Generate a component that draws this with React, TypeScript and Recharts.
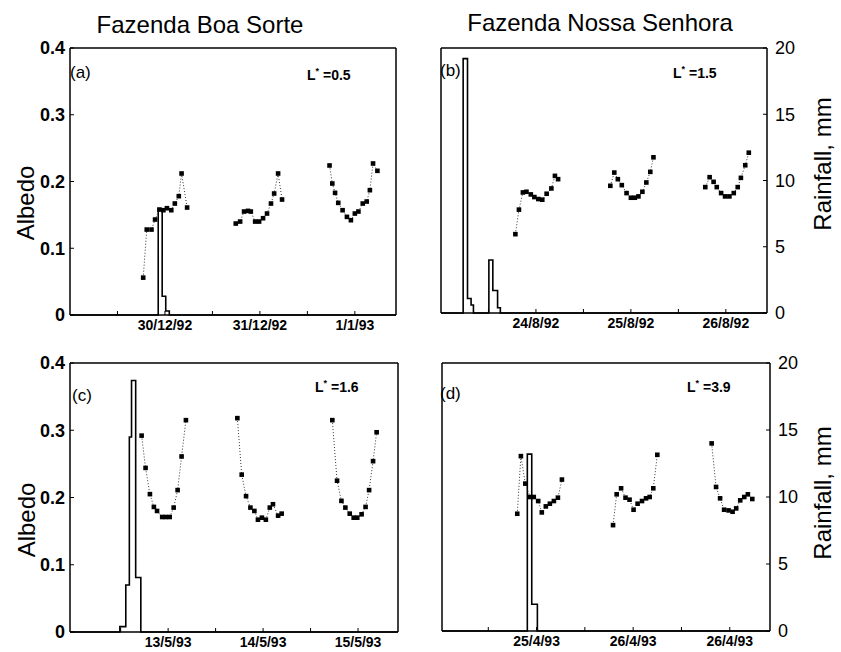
import { ComposedChart, Line, XAxis, YAxis, ReferenceLine } from "recharts";

const FONT = '"Liberation Sans", Arial, Helvetica, sans-serif';

// time axis in hours from the left edge of each panel, ticks at noon of each day
const timeTicks = [12, 24, 36, 48, 60, 72];

// (a) Fazenda Boa Sorte, dec 92
const datesA = ["30/12/92", "31/12/92", "1/1/93"];
const hoursA = [
  [18.5, 19.4, 20.6, 21.5, 22.6, 23.6, 24.5, 25.6, 26.5, 27.5, 28.2, 29.6],
  [41.9, 43.0, 44.0, 45.0, 45.7, 46.8, 47.8, 48.8, 49.8, 50.8, 51.6, 52.6, 53.6],
  [65.6, 66.3, 67.0, 67.8, 68.9, 70.0, 71.0, 72.0, 72.9, 74.0, 75.0, 75.8, 76.6, 77.7],
];
const albedoA = [
  [0.056, 0.128, 0.128, 0.143, 0.158, 0.157, 0.16, 0.157, 0.167, 0.178, 0.212, 0.161],
  [0.137, 0.14, 0.155, 0.156, 0.155, 0.14, 0.14, 0.145, 0.152, 0.167, 0.182, 0.212, 0.173],
  [0.224, 0.197, 0.183, 0.168, 0.157, 0.147, 0.142, 0.152, 0.155, 0.167, 0.17, 0.187, 0.227, 0.216],
];
const rainHoursA = [22.3, 23.3, 24.2, 25.1];
const rainA = [7.9, 1.4, 0.3, 0];

// (b) Fazenda Nossa Senhora, aug 92
const datesB = ["24/8/92", "25/8/92", "26/8/92"];
const hoursB = [
  [18.8, 19.7, 20.7, 21.6, 22.7, 23.6, 24.6, 25.6, 26.7, 27.9, 28.8, 29.6],
  [42.8, 43.8, 44.7, 45.7, 46.9, 48.0, 49.0, 49.9, 50.9, 51.9, 52.9, 53.7],
  [66.8, 67.9, 68.9, 69.7, 70.8, 71.8, 72.9, 74.0, 75.0, 75.8, 76.9, 77.8],
];
const albedoB = [
  [0.119, 0.156, 0.182, 0.183, 0.179, 0.175, 0.172, 0.171, 0.18, 0.188, 0.207, 0.202],
  [0.192, 0.212, 0.202, 0.193, 0.181, 0.174, 0.174, 0.176, 0.183, 0.197, 0.213, 0.235],
  [0.19, 0.205, 0.198, 0.19, 0.181, 0.176, 0.176, 0.181, 0.19, 0.204, 0.223, 0.242],
];
const rainHoursB = [5.6, 6.7, 7.6, 8.2, 12.1, 13.1, 14.3, 15.0];
const rainB = [19.2, 1.1, 0.6, 0, 4.0, 1.7, 0.4, 0];

// (c) Fazenda Boa Sorte, may 93
const datesC = ["13/5/93", "14/5/93", "15/5/93"];
const hoursC = [
  [17.3, 18.3, 19.4, 20.4, 21.2, 22.5, 23.4, 24.4, 25.4, 26.4, 27.4, 28.5],
  [41.5, 42.6, 43.7, 44.8, 45.8, 46.7, 47.7, 48.7, 49.7, 50.5, 51.8, 52.7],
  [65.5, 66.7, 67.8, 68.8, 69.9, 70.9, 71.8, 72.9, 73.9, 74.8, 75.8, 76.7],
];
const albedoC = [
  [0.292, 0.244, 0.205, 0.186, 0.18, 0.171, 0.171, 0.171, 0.185, 0.211, 0.261, 0.315],
  [0.318, 0.234, 0.202, 0.185, 0.18, 0.167, 0.17, 0.167, 0.185, 0.19, 0.173, 0.176],
  [0.315, 0.225, 0.195, 0.185, 0.176, 0.17, 0.17, 0.175, 0.186, 0.211, 0.254, 0.297],
];
const rainHoursC = [11.8, 13.3, 14.2, 14.75, 15.8, 17.1];
const rainC = [0.4, 3.5, 14.5, 18.7, 4.05, 0];

// (d) Fazenda Nossa Senhora, apr 93
const datesD = ["25/4/93", "26/4/93", "26/4/93"];
const hoursD = [
  [19.2, 20.1, 21.2, 22.4, 23.3, 24.4, 25.3, 26.3, 27.3, 28.3, 29.3, 30.3],
  [43.0, 43.9, 45.0, 46.1, 47.1, 48.1, 49.1, 50.2, 51.2, 52.1, 53.0, 54.0],
  [67.5, 68.6, 69.6, 70.6, 71.7, 72.7, 73.6, 74.6, 75.6, 76.5, 77.6],
];
const albedoD = [
  [0.175, 0.261, 0.22, 0.2, 0.2, 0.194, 0.177, 0.186, 0.19, 0.194, 0.199, 0.226],
  [0.158, 0.204, 0.213, 0.199, 0.196, 0.181, 0.19, 0.194, 0.198, 0.2, 0.213, 0.263],
  [0.28, 0.215, 0.198, 0.181, 0.18, 0.178, 0.183, 0.195, 0.2, 0.204, 0.197],
];
const rainHoursD = [21.7, 22.8, 24.2];
const rainD = [13.2, 2.0, 0];

const albedoTicks = [0, 0.1, 0.2, 0.3, 0.4];
const rainTicks = [0, 5, 10, 15, 20];

const renderSquare = (props: any) => {
  const { cx, cy, index } = props;
  if (cx == null || cy == null) return <g key={`s-${index}`} />;
  return <rect key={`s-${index}`} x={cx - 2.3} y={cy - 2.3} width={4.6} height={4.6} fill="#000" />;
};

type PanelProps = {
  left: number;
  top: number;
  width: number;
  height: number;
  margin: { top: number; right: number; bottom: number; left: number };
  leftWidth: number;
  rightWidth: number;
  side: "left" | "right";
  domain: [number, number];
  dates: string[];
  hours: number[][];
  albedo: number[][];
  rainHours: number[];
  rain: number[];
};

const Panel = (p: PanelProps) => {
  const rainData = [
    { h: p.domain[0], rain: 0 },
    ...p.rainHours.map((h, i) => ({ h, rain: p.rain[i] })),
    { h: p.domain[1], rain: 0 },
  ];
  const axisLine = { stroke: "#000", strokeWidth: 1.5 };
  const label = (v: number) => {
    const i = [24, 48, 72].indexOf(v);
    return i >= 0 ? p.dates[i] : "";
  };
  return (
    <div style={{ position: "absolute", left: p.left, top: p.top }}>
      <ComposedChart width={p.width} height={p.height} margin={p.margin}>
        <XAxis
          xAxisId="t"
          type="number"
          dataKey="h"
          domain={p.domain}
          ticks={timeTicks}
          interval={0}
          allowDataOverflow
          tickFormatter={label}
          tickSize={-4}
          tickMargin={9}
          height={20}
          axisLine={axisLine}
          tickLine={{ stroke: "#000" }}
          tick={{ fontSize: 14, fontWeight: "bold", fill: "#000", fontFamily: FONT }}
        />
        <YAxis
          yAxisId="alb"
          orientation="left"
          domain={[0, 0.4]}
          ticks={albedoTicks}
          interval={0}
          width={p.leftWidth}
          tickSize={-4}
          tickMargin={9}
          axisLine={axisLine}
          tickLine={{ stroke: "#000" }}
          tick={p.side === "left" ? { fontSize: 18, fontWeight: "bold", fill: "#000", fontFamily: FONT } : false}
        />
        <YAxis
          yAxisId="rain"
          orientation="right"
          domain={[0, 20]}
          ticks={rainTicks}
          interval={0}
          width={p.rightWidth}
          tickSize={-4}
          tickMargin={12}
          axisLine={axisLine}
          tickLine={{ stroke: "#000" }}
          tick={p.side === "right" ? { fontSize: 18, fill: "#000", fontFamily: FONT } : false}
        />
        <ReferenceLine xAxisId="t" yAxisId="alb" y={0.4} stroke="#000" strokeWidth={1.5} />
        <Line
          xAxisId="t"
          yAxisId="rain"
          data={rainData}
          dataKey="rain"
          type="stepAfter"
          stroke="#000"
          strokeWidth={1.6}
          dot={false}
          isAnimationActive={false}
        />
        {p.hours.map((day, i) => (
          <Line
            key={i}
            xAxisId="t"
            yAxisId="alb"
            data={day.map((h, j) => ({ h, albedo: p.albedo[i][j] }))}
            dataKey="albedo"
            type="linear"
            stroke="#333"
            strokeWidth={1}
            strokeDasharray="1 2"
            dot={renderSquare}
            isAnimationActive={false}
          />
        ))}
      </ComposedChart>
    </div>
  );
};

const Txt = ({ x, y, size, children, rotate, weight }: any) => (
  <div
    style={{
      position: "absolute",
      left: x,
      top: y,
      fontSize: size,
      fontWeight: weight || "normal",
      lineHeight: 1,
      whiteSpace: "nowrap",
      transform: `translate(-50%, -50%)${rotate ? " rotate(-90deg)" : ""}`,
    }}
  >
    {children}
  </div>
);

const Lstar = ({ x, y, v }: { x: number; y: number; v: string }) => (
  <div style={{ position: "absolute", left: x, top: y, fontSize: 14, fontWeight: "bold", lineHeight: 1, whiteSpace: "nowrap" }}>
    L<sup style={{ fontSize: 9, verticalAlign: "6px" }}>*</sup> =
    {v}
  </div>
);

const Tag = ({ x, y, t }: { x: number; y: number; t: string }) => (
  <div style={{ position: "absolute", left: x, top: y, fontSize: 17, lineHeight: 1 }}>{t}</div>
);

export default function App() {
  return (
    <div
      style={{
        position: "absolute",
        left: 0,
        top: 0,
        width: 841,
        height: 652,
        overflow: "hidden",
        background: "#fff",
        color: "#000",
        fontFamily: FONT,
      }}
    >
      <Panel
        left={0}
        top={34}
        width={420}
        height={301}
        margin={{ top: 14, right: 4, bottom: 0, left: 0 }}
        leftWidth={70}
        rightWidth={20}
        side="left"
        domain={[0, 82.4]}
        dates={datesA}
        hours={hoursA}
        albedo={albedoA}
        rainHours={rainHoursA}
        rain={rainA}
      />
      <Panel
        left={420}
        top={34}
        width={421}
        height={299}
        margin={{ top: 14, right: 24, bottom: 0, left: 1 }}
        leftWidth={20}
        rightWidth={50}
        side="right"
        domain={[0, 82.4]}
        dates={datesB}
        hours={hoursB}
        albedo={albedoB}
        rainHours={rainHoursB}
        rain={rainB}
      />
      <Panel
        left={0}
        top={349}
        width={420}
        height={303}
        margin={{ top: 14, right: 2, bottom: 0, left: 0 }}
        leftWidth={70}
        rightWidth={20}
        side="left"
        domain={[-0.8, 82.1]}
        dates={datesC}
        hours={hoursC}
        albedo={albedoC}
        rainHours={rainHoursC}
        rain={rainC}
      />
      <Panel
        left={420}
        top={349}
        width={421}
        height={302}
        margin={{ top: 14, right: 21, bottom: 0, left: 2 }}
        leftWidth={20}
        rightWidth={50}
        side="right"
        domain={[0.5, 82]}
        dates={datesD}
        hours={hoursD}
        albedo={albedoD}
        rainHours={rainHoursD}
        rain={rainD}
      />

      <Txt x={200} y={25} size={24}>Fazenda Boa Sorte</Txt>
      <Txt x={600} y={23} size={24}>Fazenda Nossa Senhora</Txt>
      <Txt x={26} y={203} size={24} rotate>Albedo</Txt>
      <Txt x={27} y={520} size={24} rotate>Albedo</Txt>
      <Txt x={823} y={164} size={24} rotate>Rainfall, mm</Txt>
      <Txt x={823} y={493} size={24} rotate>Rainfall, mm</Txt>

      <Tag x={70} y={64} t="(a)" />
      <Tag x={440} y={62} t="(b)" />
      <Tag x={72} y={387} t="(c)" />
      <Tag x={440} y={385} t="(d)" />

      <Lstar x={307} y={67} v="0.5" />
      <Lstar x={673} y={65} v="1.5" />
      <Lstar x={315} y={379} v="1.6" />
      <Lstar x={687} y={379} v="3.9" />
    </div>
  );
}
